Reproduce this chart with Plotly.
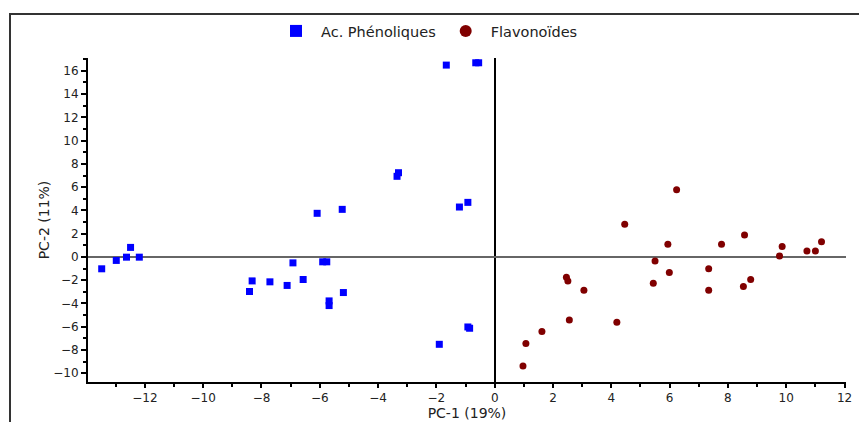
import plotly.graph_objects as go

# Ac. Phénoliques (PC-1, PC-2 scores)
phen_pc1 = [-13.48, -12.98, -12.63, -12.49, -12.19, -8.32, -8.41, -7.71, -7.12, -6.92,
            -6.57, -6.09, -5.90, -5.76, -5.68, -5.68, -5.23, -5.19, -3.35, -3.30,
            -1.66, -0.65, -0.55, -1.21, -0.92, -0.92, -0.86, -1.90]
phen_pc2 = [-1.02, -0.30, -0.02, 0.82, -0.02, -2.06, -2.97, -2.14, -2.45, -0.51,
            -1.94, 3.75, -0.42, -0.42, -3.78, -4.18, 4.09, -3.06, 6.93, 7.24,
            16.49, 16.69, 16.69, 4.29, 4.69, -6.02, -6.13, -7.51]

# Flavonoïdes (PC-1, PC-2 scores)
flav_pc1 = [6.24, 4.46, 5.94, 7.78, 8.57, 9.86, 9.77, 10.71, 11.00, 11.21,
            5.50, 5.99, 7.34, 8.78, 8.53, 7.34, 5.44, 2.46, 2.51, 3.06,
            2.56, 4.19, 1.62, 1.07, 0.97]
flav_pc2 = [5.78, 2.82, 1.10, 1.10, 1.88, 0.90, 0.07, 0.50, 0.50, 1.30,
            -0.34, -1.33, -1.02, -1.94, -2.54, -2.86, -2.26, -1.74, -2.06, -2.86,
            -5.42, -5.61, -6.41, -7.45, -9.38]

x_ticks = [-12, -10, -8, -6, -4, -2, 0, 2, 4, 6, 8, 10, 12]
y_ticks = [-10, -8, -6, -4, -2, 0, 2, 4, 6, 8, 10, 12, 14, 16]

FONT = "DejaVu Sans, Arial, sans-serif"
TXT = "#222222"

fig = go.Figure()
fig.add_trace(go.Scatter(
    x=phen_pc1, y=phen_pc2, mode="markers", name="Ac. Phénoliques",
    marker=dict(symbol="square", size=7, color="#0000FF", line=dict(width=0)),
))
fig.add_trace(go.Scatter(
    x=flav_pc1, y=flav_pc2, mode="markers", name="Flavonoïdes",
    marker=dict(symbol="circle", size=7, color="#800000", line=dict(width=0)),
))

# page body has an 8px margin; figure coords = page coords - 8
W, H = 851, 414
L, R, T, B = 80, 13, 50, 40
pw, ph = W - L - R, H - T - B

fig.update_layout(
    width=W, height=H,
    margin=dict(l=L, r=R, t=T, b=B, pad=0, autoexpand=False),
    paper_bgcolor="white", plot_bgcolor="white",
    font=dict(family=FONT, size=12, color=TXT),
    showlegend=True,
    legend=dict(
        orientation="h", x=(263 - L) / pw, xanchor="left",
        y=1 + (T - 23) / ph, yanchor="middle",
        font=dict(family=FONT, size=14.5, color=TXT),
        itemwidth=40, itemsizing="constant", bgcolor="rgba(0,0,0,0)",
    ),
    xaxis=dict(
        range=[-13.95, 12.05], tickmode="array", tickvals=x_ticks, automargin=False,
        showgrid=False, zeroline=True, zerolinecolor="#000000", zerolinewidth=1.5,
        showline=True, linecolor="#000000", linewidth=2, mirror=False,
        ticks="outside", ticklen=4, tickwidth=2, tickcolor="#000000",
        minor=dict(dtick=1, tick0=0, ticks="outside", ticklen=3, tickwidth=1.5, tickcolor="#000000"),
        tickfont=dict(family=FONT, size=12, color=TXT),
        title=dict(text="PC-1 (19%)", font=dict(family=FONT, size=14, color=TXT), standoff=4),
    ),
    yaxis=dict(
        range=[-10.75, 17.1], tickmode="array", tickvals=y_ticks, automargin=False,
        showgrid=False, zeroline=True, zerolinecolor="#666666", zerolinewidth=2,
        showline=True, linecolor="#000000", linewidth=2, mirror=False,
        ticks="outside", ticklen=5, tickwidth=2, tickcolor="#000000",
        minor=dict(dtick=1, tick0=0, ticks="outside", ticklen=3, tickwidth=1.5, tickcolor="#000000"),
        tickfont=dict(family=FONT, size=12, color=TXT),
        title=dict(text="PC-2 (11%)", font=dict(family=FONT, size=14, color=TXT), standoff=0),
    ),
    shapes=[dict(
        type="rect", xref="paper", yref="paper",
        x0=(2 - L) / pw, x1=(W + 20 - L) / pw,
        y0=-(B + 20) / ph, y1=1 + (T - 6) / ph,
        line=dict(color="#333333", width=2), fillcolor="rgba(0,0,0,0)", layer="below",
    )],
)

fig.write_html("out.html")
